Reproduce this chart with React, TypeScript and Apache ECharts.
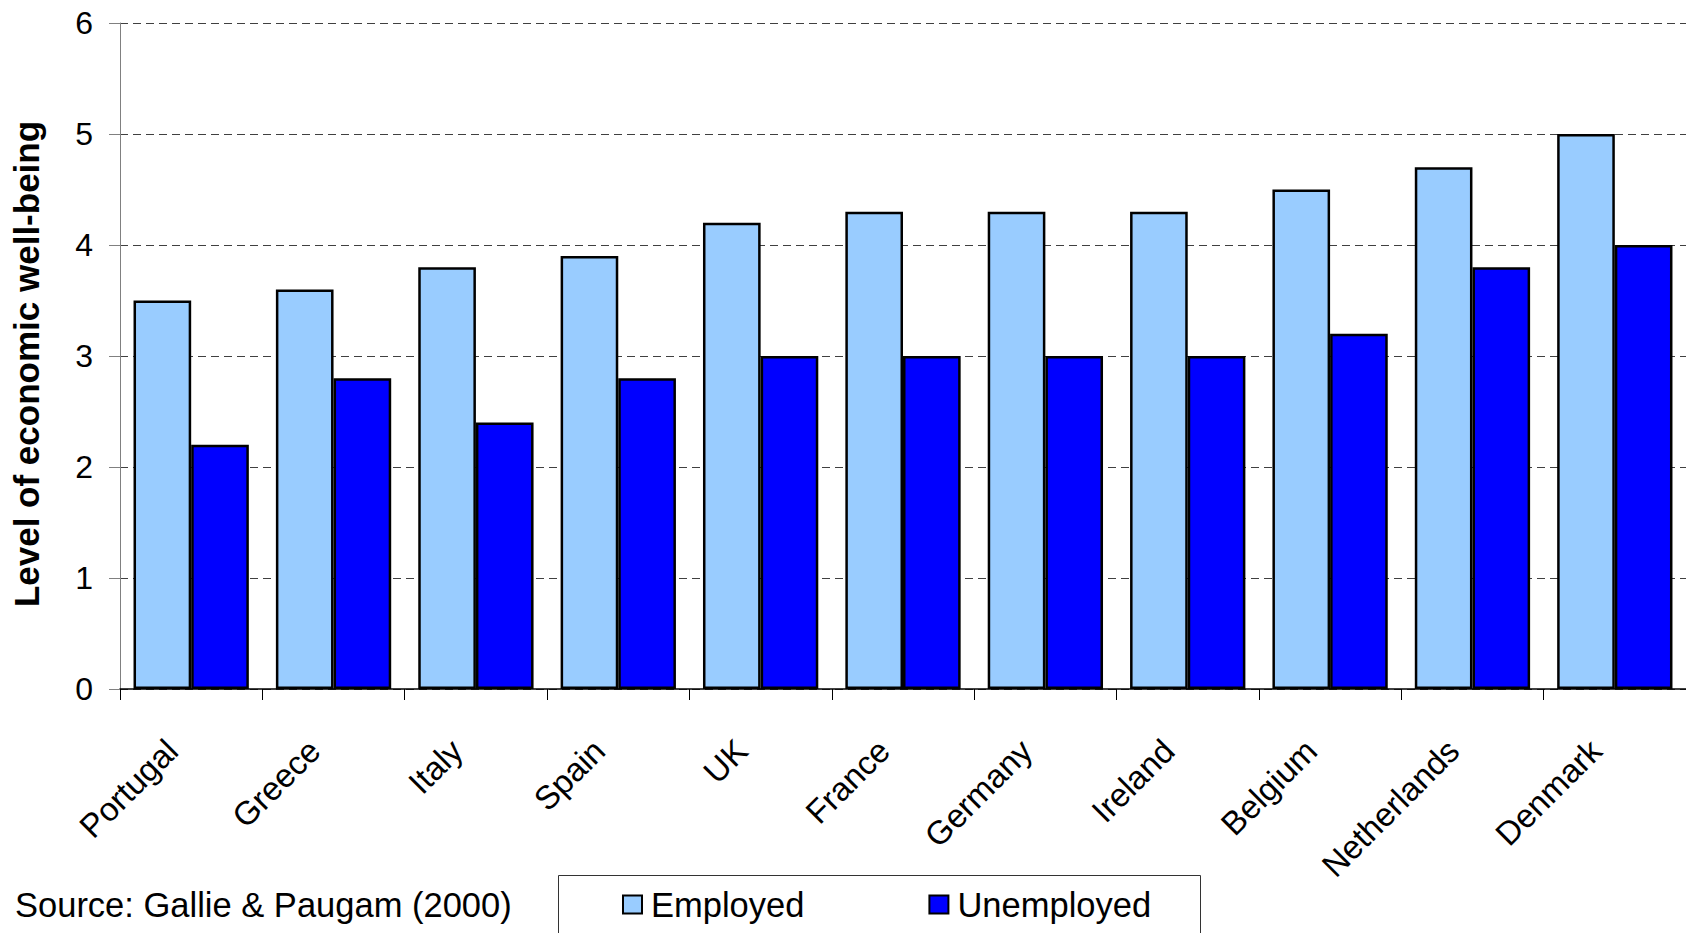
import React, { useEffect, useRef } from "react";
import * as echarts from "echarts";

const categories = ["Portugal", "Greece", "Italy", "Spain", "UK", "France", "Germany", "Ireland", "Belgium", "Netherlands", "Denmark"];
const employed = [3.5, 3.6, 3.8, 3.9, 4.2, 4.3, 4.3, 4.3, 4.5, 4.7, 5.0];
const unemployed = [2.2, 2.8, 2.4, 2.8, 3.0, 3.0, 3.0, 3.0, 3.2, 3.8, 4.0];
const seriesNames = ["Employed", "Unemployed"];
const yTitle = "Level of economic well-being";
const sourceText = "Source: Gallie & Paugam (2000)";

const FONT = "'Liberation Sans', Arial, sans-serif";

export default function App() {
  const ref = useRef<HTMLDivElement>(null);
  useEffect(() => {
    if (!ref.current) return;
    const chart = echarts.init(ref.current, null, { renderer: "svg" });
    chart.setOption({
      animation: false,
      backgroundColor: "#ffffff",
      textStyle: { fontFamily: FONT },
      grid: { left: 120, right: 0, top: 23, bottom: 244, containLabel: false, outerBoundsMode: "none" },
      legend: {
        data: seriesNames,
        left: 622,
        top: 887,
        icon: "rect",
        itemWidth: 19,
        itemHeight: 18,
        itemGap: 124,
        textStyle: { fontSize: 34.5, color: "#000", fontFamily: FONT, padding: [0, 0, 0, 4] },
        padding: 0,
      },
      xAxis: {
        type: "category",
        data: categories,
        axisLine: { show: true, lineStyle: { color: "#000", width: 1.5 } },
        axisTick: { show: true, length: 11, interval: 0, lineStyle: { color: "#000", width: 1 } },
        axisLabel: { interval: 0, rotate: 45, margin: 37, padding: [0, 27, 0, 0], fontSize: 33, color: "#000", fontFamily: FONT },
        splitLine: { show: false },
      },
      yAxis: {
        type: "value",
        min: 0,
        max: 6,
        interval: 1,
        axisLine: { show: true, lineStyle: { color: "#808080", width: 1 } },
        axisTick: { show: true, length: 11, lineStyle: { color: "#808080", width: 1 } },
        axisLabel: { margin: 27, fontSize: 32, color: "#000", fontFamily: FONT },
        splitLine: { show: true, lineStyle: { color: "#404040", width: 1, type: [8, 5] } },
      },
      series: [
        {
          name: seriesNames[0],
          type: "bar",
          data: employed,
          barGap: "0%",
          barCategoryGap: "19%",
          itemStyle: { color: "#99CCFF", borderColor: "#000", borderWidth: 2.5 },
        },
        {
          name: seriesNames[1],
          type: "bar",
          data: unemployed,
          barGap: "0%",
          barCategoryGap: "19%",
          itemStyle: { color: "#0000FF", borderColor: "#000", borderWidth: 2.5 },
        },
      ],
      graphic: [
        {
          type: "text",
          x: 26,
          y: 364,
          rotation: Math.PI / 2,
          style: {
            text: yTitle,
            fontSize: 35,
            fontWeight: "bold",
            fontFamily: FONT,
            fill: "#000",
            align: "center",
            verticalAlign: "middle",
          },
        },
        {
          type: "text",
          x: 15,
          y: 905,
          style: {
            text: sourceText,
            fontSize: 34.5,
            fontFamily: FONT,
            fill: "#000",
            align: "left",
            verticalAlign: "middle",
          },
        },
        {
          type: "rect",
          shape: { x: 558.5, y: 875.5, width: 642, height: 80 },
          style: { fill: "none", stroke: "#333", lineWidth: 1 },
          z: -1,
        },
      ],
    });
    return () => chart.dispose();
  }, []);
  return <div ref={ref} style={{ position: "absolute", left: 0, top: 0, width: 1686, height: 933 }} />;
}
